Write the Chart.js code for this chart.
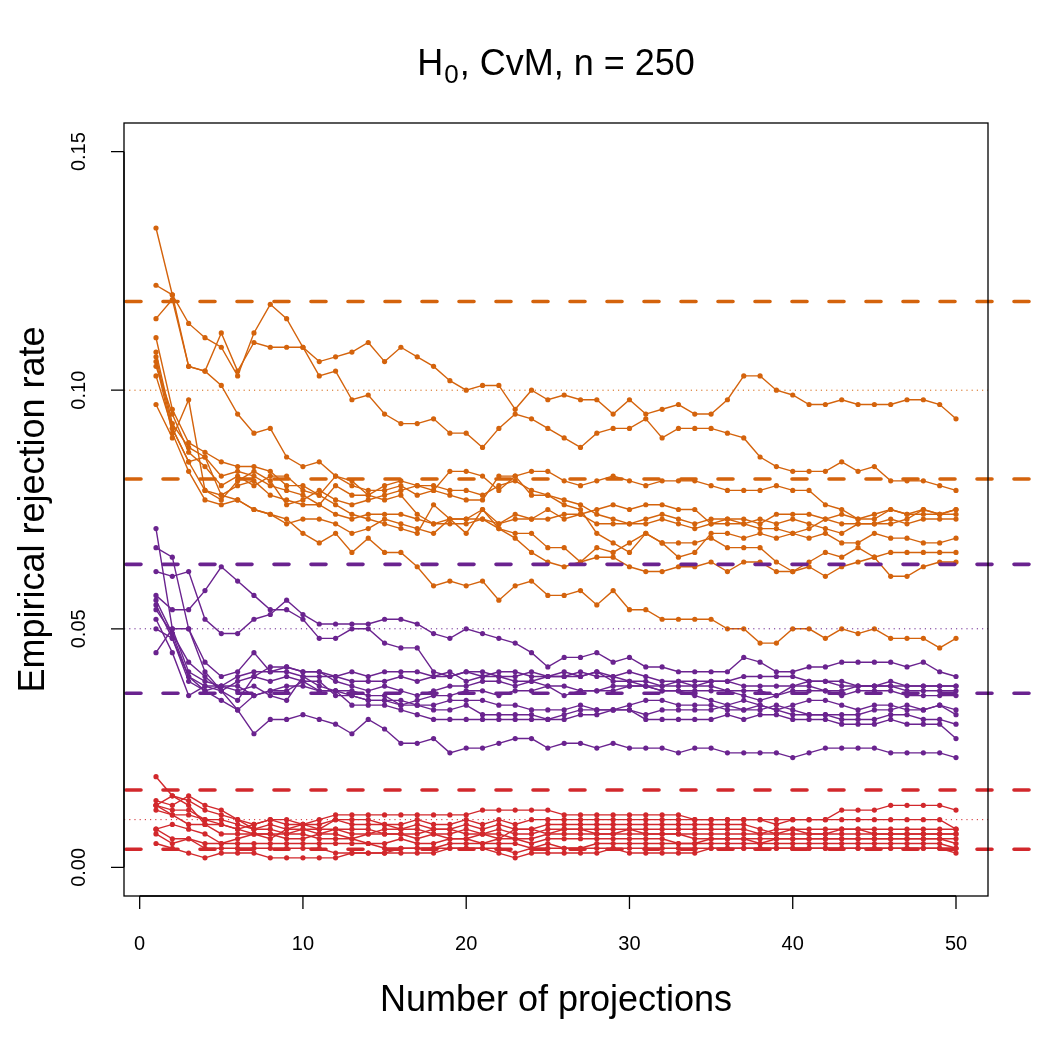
<!DOCTYPE html>
<html lang="en">
  <head>
    <meta charset="UTF-8" />
    <title>H0, CvM, n = 250</title>
    <script src="https://cdn.jsdelivr.net/npm/chart.js@4.4.1/dist/chart.umd.min.js"></script>
    <style>
      html, body { margin: 0; padding: 0; background: #ffffff; }
      #wrap { width: 1050px; height: 1050px; }
    </style>
  </head>
  <body>
    <div id="wrap">
      <canvas id="rej_chart" width="1050" height="1050"></canvas>
    </div>
    <script>
      // number of projections (x axis)
      const projections = [1,2,3,4,5,6,7,8,9,10,11,12,13,14,15,16,17,18,19,20,21,22,23,24,25,
        26,27,28,29,30,31,32,33,34,35,36,37,38,39,40,41,42,43,44,45,46,47,48,49,50];

      // empirical rejection rates, in rejections per 1000 (alpha = 0.10, orange)
      const orangeRuns = [
        [122,120,114,111,109,103,112,118,115,109,106,107,108,110,106,109, 107,105,102,100,101,101,96,100,98,99,98,98,95,98,95,96,97,95,95, 98,103,103,100,99,97,97,98,97,97,97,98,98,97,94],
        [115,119,105,104,112,104,110,109,109,109,103,104,98,99,95,93, 93,94,91,91,88,92,95,94,92,90,88,91,92,92,94,90,92,92,92, 91,90,86,84,83,83,83,85,83,84,81,81,81,80,79],
        [134,120,105,104,101,95,91,92,86,84,85,82,81,78,80,81, 80,79,83,83,82,79,82,83,83,81,80,81,82,81,80,81,81,81,80, 79,79,79,80,79,79,76,75,73,73,75,74,75,74,75],
        [111,96,89,87,85,84,84,83,80,80,78,82,80,79,79,80, 78,79,78,77,77,82,82,78,78,76,75,70,68,66,70,68,65,66,70, 70,69,70,69,70,69,70,68,68,70,69,69,68,68,69],
        [108,93,88,86,82,83,82,80,79,78,76,80,78,78,77,78, 74,72,73,73,75,72,73,73,73,74,74,75,76,75,76,76,75,75,72, 73,73,72,74,74,74,73,72,72,72,72,73,75,74,75],
        [107,92,85,79,78,80,81,78,77,76,76,74,73,74,74,74, 73,72,72,72,73,72,74,73,75,73,74,72,72,72,72,73,72,71,72, 72,72,71,71,70,71,73,74,73,74,75,74,74,74,74],
        [106,91,83,77,76,77,75,74,72,73,73,72,70,71,73,72, 71,70,73,70,75,71,70,70,67,67,64,67,66,68,70,68,68,68,69, 67,67,67,64,62,64,66,65,67,65,61,61,63,64,64],
        [105,95,87,84,80,82,80,82,82,79,78,76,74,73,72,71, 70,76,73,73,73,71,69,66,64,63,64,65,65,63,62,62,63,63,64, 62,64,64,62,62,63,61,63,64,65,66,66,66,66,66],
        [103,92,85,86,78,77,75,74,73,70,68,70,66,69,66,66, 63,59,60,59,60,56,59,60,57,57,58,55,58,54,54,52,52,52,52, 50,50,47,47,50,50,48,50,49,50,48,48,48,46,48],
        [97,90,98,79,77,81,83,81,76,77,79,77,76,77,78,79, 80,80,79,79,78,80,81,79,78,77,76,74,73,72,73,74,73,72,73, 73,72,73,72,73,72,71,70,72,72,73,72,73,73,73]
      ];

      // alpha = 0.05, purple
      const purpleRuns = [
        [71,50,41,39,38,40,41,41,42,41,41,39,38,37,38,37, 36,37,38,38,39,39,38,39,38,38,37,37,37,38,38,37,37,37,37, 37,37,37,36,37,37,37,36,37,37,37,36,36,36,36],
        [67,65,50,43,40,41,45,41,41,40,40,40,41,40,41,41, 41,40,40,41,41,40,40,41,40,40,41,40,40,41,40,39,39,38,39, 39,40,40,40,40,39,39,39,38,38,39,38,38,38,38],
        [62,61,62,52,49,49,52,53,56,53,51,51,51,51,52,52, 51,49,48,50,49,48,47,45,42,44,44,45,43,44,42,42,41,41,41, 41,44,43,41,41,42,42,43,43,43,43,42,43,41,40],
        [57,54,54,58,63,60,57,54,54,52,48,48,50,50,47,46, 46,41,40,41,40,40,39,39,40,41,40,41,40,39,39,38,39,39,39, 39,38,38,38,38,39,39,38,38,38,38,38,38,38,38],
        [56,49,43,40,37,39,40,42,42,41,41,40,39,39,39,40, 39,40,41,39,40,41,41,40,40,40,40,41,39,39,38,38,38,38,38, 37,36,35,36,38,38,37,37,38,38,38,37,37,37,37],
        [55,48,39,37,38,38,36,37,38,38,37,37,36,35,35,34, 35,36,36,37,37,36,37,37,38,36,37,37,38,38,38,37,37,36,35, 34,35,34,33,34,35,35,34,33,34,34,33,33,34,33],
        [54,49,40,38,37,35,40,39,40,39,39,36,36,35,35,35, 34,33,33,34,32,32,32,32,31,32,33,33,33,34,35,35,34,34,34, 33,33,33,34,33,32,32,32,32,33,33,34,33,34,32],
        [52,45,36,38,38,37,38,36,35,40,38,37,37,36,36,34, 34,34,35,35,35,34,34,33,33,33,34,33,33,33,32,33,33,33,33, 34,33,34,33,32,32,32,31,31,31,32,32,31,31,30],
        [50,48,40,37,35,33,36,37,37,39,37,37,34,34,34,33, 32,31,31,31,31,31,31,31,31,31,32,32,33,33,31,31,31,31,31, 32,31,32,32,31,31,31,30,30,30,31,30,30,30,27],
        [45,50,50,41,37,33,28,31,31,32,31,30,28,31,29,26, 26,27,24,25,25,26,27,27,25,26,26,25,26,25,25,25,24,25,25, 24,24,24,24,23,24,25,25,25,25,24,24,24,24,23]
      ];

      // alpha = 0.01, red
      const redRuns = [
        [14,13,15,13,12,10,9,10,10,9,10,11,11,11,11,11, 11,11,11,11,12,12,12,12,12,11,11,11,11,11,11,11,11,10,10, 10,10,10,9,10,10,10,12,12,12,13,13,13,13,12],
        [19,15,14,12,11,10,8,9,8,9,9,10,10,10,9,9, 10,9,9,10,9,10,9,10,10,10,10,10,10,10,10,10,10,10,10, 10,10,10,10,10,10,10,10,10,10,10,10,10,10,8],
        [13,15,13,9,9,8,9,10,9,9,8,10,9,9,9,8, 9,8,8,9,8,9,8,8,9,9,9,9,9,9,9,9,9,9,9, 9,9,8,7,8,8,8,8,8,8,8,8,8,8,8],
        [13,11,11,10,10,9,8,8,7,8,8,8,8,8,7,7, 7,8,8,7,7,6,8,8,7,8,8,8,8,8,8,8,8,8,8, 8,8,7,8,8,7,7,8,8,7,7,7,7,7,7],
        [12,11,9,9,7,7,7,6,8,8,7,7,6,7,7,7, 6,7,6,6,7,7,6,6,7,7,7,7,7,7,7,7,7,7,7, 7,7,7,7,7,7,7,7,7,7,7,7,7,7,7],
        [8,9,8,7,5,6,7,7,7,7,6,6,6,5,5,6, 5,5,6,6,5,6,6,5,6,6,6,6,6,6,6,6,5,5,6, 6,6,5,6,6,6,6,6,6,6,6,6,6,6,5],
        [8,6,6,5,5,5,5,5,5,5,5,5,5,5,4,4, 4,4,5,5,5,5,5,4,5,4,4,5,5,5,5,5,5,5,5, 5,5,5,5,5,5,5,5,5,5,5,5,5,5,4],
        [7,5,6,4,4,4,4,4,4,4,4,3,3,3,3,4, 4,4,4,4,4,4,3,4,4,4,4,4,4,4,4,4,4,4,4, 4,4,4,4,4,4,4,4,4,4,4,4,4,4,4],
        [5,4,3,2,3,3,3,2,2,2,2,2,3,3,3,3, 3,3,4,4,4,3,2,3,3,3,3,3,4,3,3,3,3,3,4, 4,4,4,4,4,4,4,4,4,4,4,4,4,4,3],
        [13,12,12,10,9,8,7,7,6,6,7,8,7,7,8,8, 8,7,7,8,7,8,7,7,8,8,8,7,7,8,7,7,7,6,6, 6,6,6,6,6,6,6,6,6,6,6,6,6,6,6]
      ];

      // nominal levels (dotted) and 95% bands (dashed), per 1000
      const nominalLevels = [100, 50, 10];
      const bandLevels = [[118.6, 81.4], [63.5, 36.5], [16.2, 3.8]];
      const groupColors = ["#d4630c", "#6a238f", "#d2282c"];

      const xTicks = [0, 10, 20, 30, 40, 50];
      const yTicks = [0, 50, 100, 150];
      const yTickLabels = ["0.00", "0.05", "0.10", "0.15"];

      const FONT = '"Liberation Sans", Arial, Helvetica, sans-serif';

      let datasets = [];
      [orangeRuns, purpleRuns, redRuns].forEach((runs, g) => {
        runs.forEach((run) => {
          datasets.push({
            data: run.map((v, i) => ({ x: projections[i], y: v })),
            borderColor: groupColors[g],
            backgroundColor: groupColors[g],
            pointBackgroundColor: groupColors[g],
            borderWidth: 1.4,
            pointRadius: 2.6,
            pointBorderWidth: 0,
            tension: 0,
          });
        });
      });

      // R-style box, axes, reference lines and titles
      const rStyle = {
        id: "rStyle",
        afterDatasetsDraw(chart) {
          const ctx = chart.ctx;
          const a = chart.chartArea;
          const xs = chart.scales.x;
          const ys = chart.scales.y;
          ctx.save();

          // dotted nominal levels
          ctx.lineWidth = 1;
          ctx.setLineDash([1.2, 4]);
          nominalLevels.forEach((lv, g) => {
            const y = ys.getPixelForValue(lv);
            ctx.strokeStyle = groupColors[g];
            ctx.beginPath();
            ctx.moveTo(a.left, y);
            ctx.lineTo(a.right, y);
            ctx.stroke();
          });

          // dashed bands, running to the page edge
          ctx.lineWidth = 3.6;
          ctx.lineCap = "round";
          ctx.setLineDash([15, 22]);
          bandLevels.forEach((pair, g) => {
            pair.forEach((lv) => {
              const y = ys.getPixelForValue(lv);
              ctx.strokeStyle = groupColors[g];
              ctx.beginPath();
              ctx.moveTo(a.left + 2, y);
              ctx.lineTo(chart.width, y);
              ctx.stroke();
            });
          });
          ctx.setLineDash([]);
          ctx.lineCap = "butt";

          // box
          ctx.strokeStyle = "#000";
          ctx.lineWidth = 1.3;
          ctx.strokeRect(a.left, a.top, a.right - a.left, a.bottom - a.top);

          // x axis
          ctx.fillStyle = "#000";
          ctx.font = "20px " + FONT;
          ctx.textAlign = "center";
          ctx.textBaseline = "alphabetic";
          ctx.beginPath();
          ctx.moveTo(xs.getPixelForValue(xTicks[0]), a.bottom);
          ctx.lineTo(xs.getPixelForValue(xTicks[xTicks.length - 1]), a.bottom);
          xTicks.forEach((t) => {
            const x = xs.getPixelForValue(t);
            ctx.moveTo(x, a.bottom);
            ctx.lineTo(x, a.bottom + 13);
          });
          ctx.stroke();
          xTicks.forEach((t) => {
            ctx.fillText(String(t), xs.getPixelForValue(t), a.bottom + 54);
          });

          // y axis
          ctx.beginPath();
          ctx.moveTo(a.left, ys.getPixelForValue(yTicks[0]));
          ctx.lineTo(a.left, ys.getPixelForValue(yTicks[yTicks.length - 1]));
          yTicks.forEach((t) => {
            const y = ys.getPixelForValue(t);
            ctx.moveTo(a.left, y);
            ctx.lineTo(a.left - 13, y);
          });
          ctx.stroke();
          yTicks.forEach((t, i) => {
            ctx.save();
            ctx.translate(a.left - 39, ys.getPixelForValue(t));
            ctx.rotate(-Math.PI / 2);
            ctx.fillText(yTickLabels[i], 0, 0);
            ctx.restore();
          });

          // axis titles
          const cx = (a.left + a.right) / 2;
          ctx.font = "36px " + FONT;
          ctx.fillText("Number of projections", cx, 1011);
          ctx.save();
          ctx.translate(44, (a.top + a.bottom) / 2);
          ctx.rotate(-Math.PI / 2);
          ctx.fillText("Empirical rejection rate", 0, 0);
          ctx.restore();

          // main title with subscript
          const big = "36px " + FONT;
          const small = "26px " + FONT;
          ctx.font = big;
          const wH = ctx.measureText("H").width;
          const wRest = ctx.measureText(", CvM, n = 250").width;
          ctx.font = small;
          const wSub = ctx.measureText("0").width;
          let x0 = cx - (wH + wSub + 2 + wRest) / 2;
          ctx.textAlign = "left";
          ctx.font = big;
          ctx.fillText("H", x0, 75);
          ctx.font = small;
          ctx.fillText("0", x0 + wH + 1, 83);
          ctx.font = big;
          ctx.fillText(", CvM, n = 250", x0 + wH + wSub + 2, 75);

          ctx.restore();
        },
      };

      new Chart(document.getElementById("rej_chart"), {
        type: "line",
        data: { datasets: datasets },
        options: {
          responsive: false,
          animation: false,
          devicePixelRatio: 1,
          layout: { padding: { left: 124, top: 123, right: 62, bottom: 154 } },
          plugins: {
            legend: { display: false },
            tooltip: { enabled: false },
            title: { display: false },
          },
          scales: {
            x: { type: "linear", min: -0.96, max: 51.96, display: false },
            y: { type: "linear", min: -6, max: 156, display: false },
          },
        },
        plugins: [rStyle],
      });
    </script>
  </body>
</html>
